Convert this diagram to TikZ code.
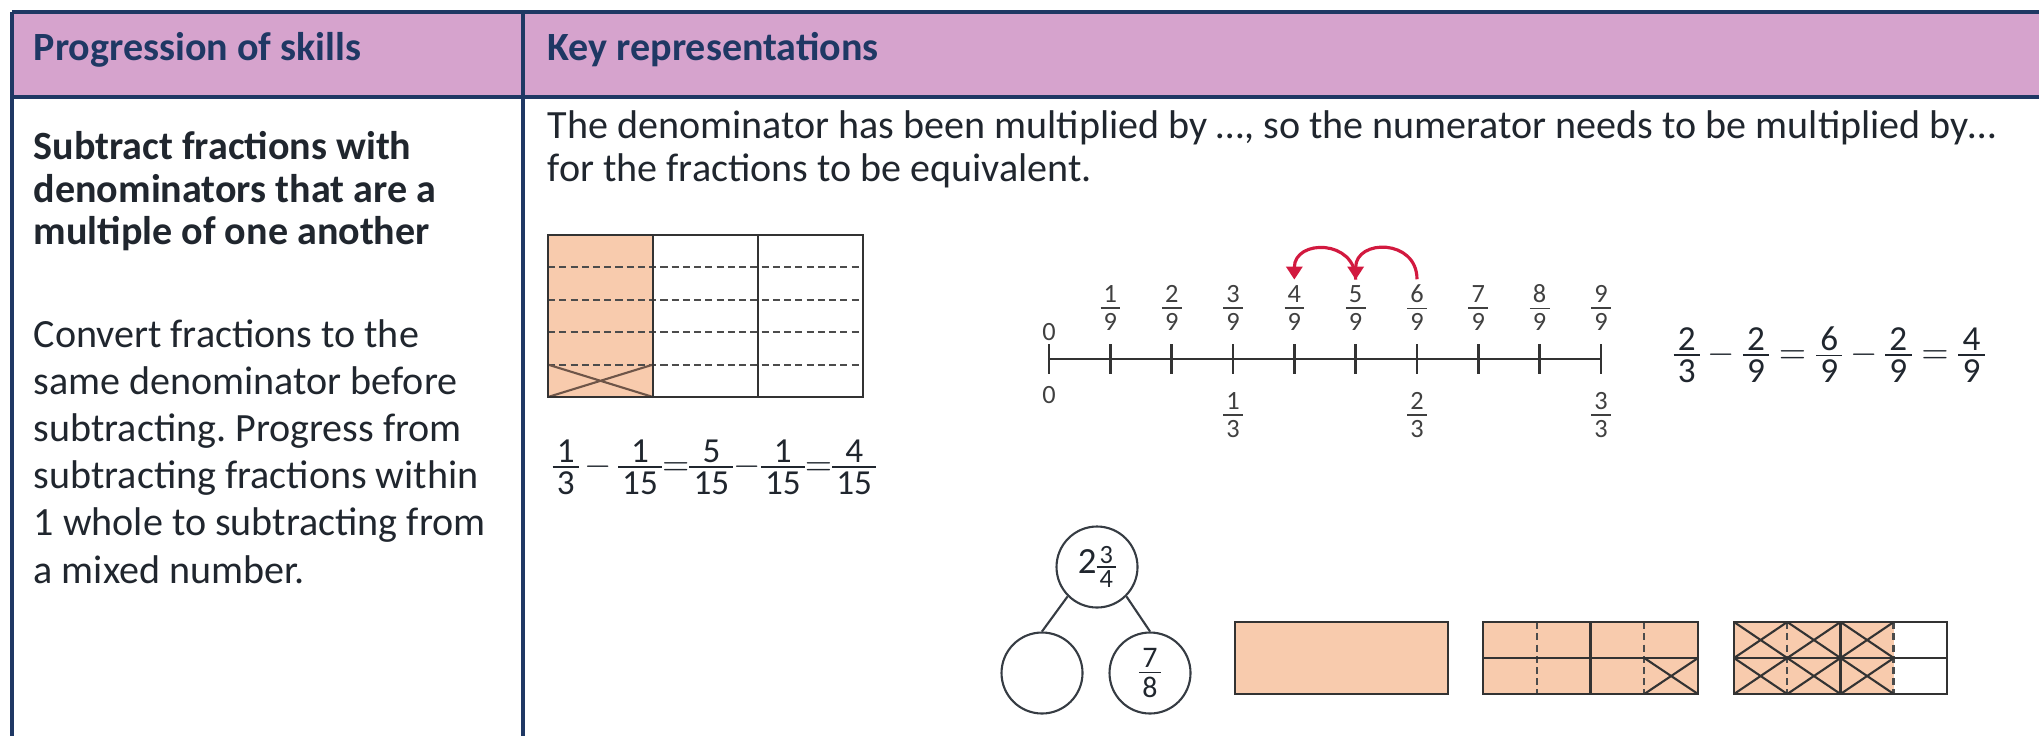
\documentclass[tikz,border=0pt]{standalone}
\usepackage{amsmath}
\usepackage{fontspec}
\setmainfont{Carlito}
\usetikzlibrary{arrows.meta}
\frenchspacing

\definecolor{headpink}{HTML}{D6A3CD}
\definecolor{rulenavy}{HTML}{1F3864}
\definecolor{inkgray}{HTML}{20262E}
\definecolor{peach}{HTML}{F8CBAD}
\definecolor{jumpred}{HTML}{D2193F}
\definecolor{crossbrown}{HTML}{6E5548}

% compact stacked fraction in the text font, optional gap round the bar
\newcommand{\sfr}[3][0.1em]{\ensuremath{\vcenter{\offinterlineskip
  \halign{\hfil\kern0.12em##\kern0.12em\hfil\cr
    \vphantom{0}#2\cr
    \noalign{\kern#1\hrule height 0.05em\kern#1}
    \vphantom{0}#3\cr}}}}

\begin{document}
\begin{tikzpicture}[x=1cm,y=1cm]
\tikzset{
  tablerule/.style={rulenavy,line width=1.1pt},
  headtext/.style={anchor=base west,inner sep=0pt,font=\fontsize{11.4}{12.3}\selectfont\bfseries,text=rulenavy},
  bodytext/.style={anchor=north west,align=left,inner sep=0pt,font=\fontsize{11.4}{12.3}\selectfont,text=inkgray},
  barline/.style={draw=black!80,line width=0.6pt},
  cutline/.style={black!70,line width=0.6pt,dash pattern=on 2pt off 1.2pt},
  ticklbl/.style={inner sep=0pt,font=\fontsize{7.5}{8}\selectfont,text=black!75},
  eqtext/.style={anchor=west,inner sep=0pt,font=\fontsize{10}{11}\selectfont,text=inkgray},
  jump/.style={-{Triangle[length=1.3mm,width=1.6mm]},jumpred,line width=0.9pt},
  pwcircle/.style={circle,draw=inkgray!90,line width=0.6pt,minimum size=8.1mm,inner sep=0pt,text=inkgray}
}
\useasboundingbox (0,0) rectangle (20.39,-7.36);

% table frame
\fill[headpink] (0.12,-0.12) rectangle (20.39,-0.97);
\draw[tablerule] (0.12,-0.12) -- (20.39,-0.12);
\draw[tablerule] (0.12,-0.97) -- (20.39,-0.97);
\draw[tablerule] (0.12,-0.12) -- (0.12,-7.36);
\draw[tablerule] (5.23,-0.12) -- (5.23,-7.36);
\node[headtext] (h_skills) at (0.33,-0.60) {Progression of skills};
\node[headtext] (h_reps) at (5.47,-0.60) {Key representations};

% left column
\node[bodytext,font=\fontsize{11.4}{12.1}\selectfont\bfseries] (t_aim) at (0.33,-1.31)
  {Subtract fractions with\\denominators that are a\\multiple of one another};
\node[bodytext,font=\fontsize{11.4}{13.4}\selectfont] (t_how) at (0.33,-3.19)
  {Convert fractions to the\\same denominator before\\subtracting. Progress from\\subtracting fractions within\\1 whole to subtracting from\\a mixed number.};

% right column
\node[bodytext] (t_rule) at (5.47,-1.10)
  {The denominator has been multiplied by …, so the numerator needs to be multiplied by…\\for the fractions to be equivalent.};

% bar of thirds and fifteenths
\fill[peach] (5.48,-2.35) rectangle (6.53,-3.97);
\foreach \y in {-2.674,-2.998,-3.322,-3.646}
  \draw[cutline] (5.48,\y) -- (8.63,\y);
\draw[crossbrown,line width=0.6pt] (5.48,-3.646) -- (6.53,-3.97) (5.48,-3.97) -- (6.53,-3.646);
\draw[barline] (5.48,-2.35) rectangle (8.63,-3.97);
\draw[barline] (6.53,-2.35) -- (6.53,-3.97) (7.58,-2.35) -- (7.58,-3.97);
\node[eqtext] (eq_left) at (5.52,-4.67)
  {$\sfr{1}{3}\,{-}\,\sfr{1}{15}{=}\sfr{5}{15}{-}\sfr{1}{15}{=}\sfr{4}{15}$};

% number line
\draw[line width=0.7pt,black!80] (10.49,-3.59) -- (16.01,-3.59);
\foreach \i in {0,...,9}
  \draw[line width=0.7pt,black!80] ({10.49+0.6133*\i},-3.44) -- ({10.49+0.6133*\i},-3.74);
\node[ticklbl] (n9_0) at (10.49,-3.32) {0};
\foreach \i in {1,...,9}
  \node[ticklbl] (n9_\i) at ({10.49+0.6133*\i},-3.08) {\sfr[0.18em]{\i}{9}};
\node[ticklbl] (n3_0) at (10.49,-3.95) {0};
\node[ticklbl] (n3_1) at (12.33,-4.15) {\sfr[0.18em]{1}{3}};
\node[ticklbl] (n3_2) at (14.17,-4.15) {\sfr[0.18em]{2}{3}};
\node[ticklbl] (n3_3) at (16.01,-4.15) {\sfr[0.18em]{3}{3}};
\draw[jump] ([yshift=0.5mm]n9_6.north) to[out=90,in=90,looseness=1.7] ([yshift=0.5mm]n9_5.north);
\draw[jump] ([yshift=0.5mm]n9_5.north) to[out=90,in=90,looseness=1.7] ([yshift=0.5mm]n9_4.north);
\node[eqtext] (eq_right) at (16.73,-3.55)
  {$\sfr{2}{3}-\sfr{2}{9}=\sfr{6}{9}-\sfr{2}{9}=\sfr{4}{9}$};

% part-whole model
\node[pwcircle,font=\fontsize{10.5}{11}\selectfont] (pw_top) at (10.97,-5.67) {2{\fontsize{7.5}{8}\selectfont\sfr{3}{4}}};
\node[pwcircle] (pw_left) at (10.42,-6.73) {};
\node[pwcircle,font=\fontsize{8.5}{9}\selectfont] (pw_right) at (11.50,-6.73) {\sfr[0.12em]{7}{8}};
\draw[inkgray!90,line width=0.6pt] (pw_top.south west) -- (pw_left.north);
\draw[inkgray!90,line width=0.6pt] (pw_top.south east) -- (pw_right.north);

% bar models
\draw[barline,fill=peach] (12.35,-6.22) rectangle (14.48,-6.94);

\fill[peach] (14.83,-6.22) rectangle (16.98,-6.94);
\draw[cutline] (15.3675,-6.22) -- (15.3675,-6.94) (16.4425,-6.22) -- (16.4425,-6.94);
\draw[barline] (16.4425,-6.58) -- (16.98,-6.94) (16.4425,-6.94) -- (16.98,-6.58);
\draw[barline] (14.83,-6.22) rectangle (16.98,-6.94);
\draw[barline] (15.905,-6.22) -- (15.905,-6.94) (14.83,-6.58) -- (16.98,-6.58);

\fill[peach] (17.34,-6.22) rectangle (18.935,-6.94);
\draw[cutline] (17.8725,-6.22) -- (17.8725,-6.94) (18.935,-6.22) -- (18.935,-6.94);
\foreach \c in {0,1,2}
  \foreach \r in {0,1}
    \draw[barline] ({17.34+0.5325*\c},{-6.22-0.36*\r}) -- ({17.8725+0.5325*\c},{-6.58-0.36*\r})
                   ({17.34+0.5325*\c},{-6.58-0.36*\r}) -- ({17.8725+0.5325*\c},{-6.22-0.36*\r});
\draw[barline] (17.34,-6.22) rectangle (19.47,-6.94);
\draw[barline] (18.405,-6.22) -- (18.405,-6.94) (17.34,-6.58) -- (19.47,-6.58);
\end{tikzpicture}
\end{document}
